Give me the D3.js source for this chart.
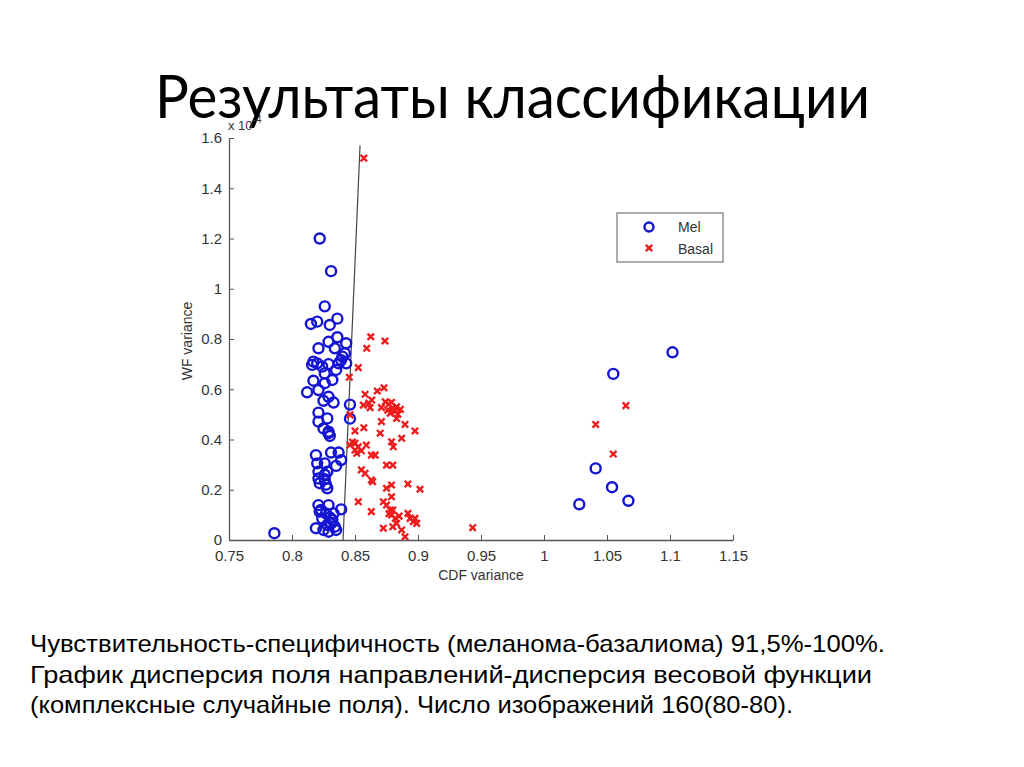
<!DOCTYPE html>
<html><head><meta charset="utf-8">
<script src="https://cdn.jsdelivr.net/npm/d3@7"></script>
<style>html,body{margin:0;padding:0;background:#fff;}</style>
</head><body>
<svg id="c" width="1024" height="767"></svg>
<script>
const titleText = "Результаты классификации";
const captionLines = [
  "Чувствительность-специфичность (меланома-базалиома)  91,5%-100%.",
  "График дисперсия поля направлений-дисперсия весовой функции",
  "(комплексные случайные поля). Число изображений 160(80-80)."
];
const xTicks = [0.75,0.8,0.85,0.9,0.95,1,1.05,1.1,1.15];
const xTickLabels = ["0.75","0.8","0.85","0.9","0.95","1","1.05","1.1","1.15"];
const yTicks = [0,0.2,0.4,0.6,0.8,1,1.2,1.4,1.6];
const yTickLabels = ["0","0.2","0.4","0.6","0.8","1","1.2","1.4","1.6"];
const seriesNames = ["Mel","Basal"];
const xLabel = "CDF variance";
const yLabel = "WF variance";
const boundaryX = [0.8405, 0.854];
const boundaryY = [0, 1.57];

// Mel: CDF variance, WF variance (x1e-4)
const melX = [0.822,0.831,0.826,0.815,0.820,0.830,0.836,
  0.836,0.829,0.821,0.834,0.843,0.842,0.839,0.817,0.820,0.816,0.829,0.837,0.843,0.835,0.826,0.817,0.826,0.832,0.821,0.812,0.829,0.825,0.833,0.846,0.846,0.821,0.828,0.821,0.825,0.829,0.830,
  0.829,0.819,0.831,0.837,0.839,0.820,0.826,0.835,0.821,0.828,0.821,0.826,0.822,0.828,0.821,0.829,0.839,0.822,0.827,0.833,0.824,0.832,0.819,0.828,0.834,0.829,0.835,0.825,
  0.827,0.826,0.830,0.823,0.831,0.824,0.840,
  1.102,1.055,1.041,1.054,1.067,1.028,0.786];
const melY = [1.20,1.07,0.93,0.86,0.869,0.856,0.881,
  0.807,0.789,0.763,0.763,0.783,0.743,0.716,0.710,0.703,0.697,0.700,0.703,0.703,0.677,0.663,0.634,0.624,0.637,0.597,0.588,0.570,0.554,0.547,0.539,0.483,0.507,0.484,0.471,0.444,0.431,0.414,
  0.425,0.338,0.348,0.348,0.318,0.305,0.305,0.295,0.272,0.272,0.245,0.242,0.226,0.206,0.139,0.139,0.122,0.113,0.106,0.106,0.086,0.080,0.047,0.060,0.053,0.033,0.040,0.040,
  0.220,0.260,0.090,0.120,0.065,0.690,0.730,
  0.747,0.661,0.285,0.210,0.156,0.142,0.027];

// Basal
const basX = [0.857,0.8625,0.8738,0.8593,0.8526,0.8455,0.873,0.8677,0.858,0.8633,0.8566,0.862,0.879,0.871,0.876,0.8817,0.884,0.878,0.846,0.871,0.8897,0.8976,0.850,0.857,0.870,0.879,0.8804,0.887,
  0.846,0.850,0.8526,0.850,0.8514,0.859,0.863,0.866,0.875,0.880,0.855,0.858,0.863,0.864,0.875,0.879,0.892,0.9016,0.879,0.8526,0.8725,0.875,0.878,0.880,0.879,0.882,0.883,0.887,0.863,0.892,0.8937,0.8976,0.899,0.8963,0.8725,0.880,0.8897,
  1.065,1.041,1.055,0.9434,
  0.877,0.883,0.874,0.880,0.886,0.883,0.855,0.848,0.861,0.885,0.877];
const basY = [1.52,0.809,0.792,0.763,0.686,0.648,0.606,0.593,0.580,0.557,0.537,0.527,0.548,0.527,0.517,0.513,0.500,0.505,0.498,0.471,0.460,0.434,0.434,0.447,0.425,0.391,0.371,0.405,
  0.378,0.385,0.371,0.358,0.345,0.378,0.338,0.338,0.298,0.298,0.279,0.265,0.239,0.232,0.206,0.219,0.223,0.202,0.172,0.152,0.152,0.139,0.119,0.119,0.100,0.086,0.066,0.040,0.113,0.106,0.086,0.086,0.066,0.073,0.047,0.053,0.013,
  0.535,0.460,0.342,0.049,
  0.540,0.530,0.550,0.525,0.520,0.484,0.355,0.390,0.545,0.095,0.105];

const svg = d3.select("#c");
const x = d3.scaleLinear().domain([0.75,1.15]).range([229,733]);
const y = d3.scaleLinear().domain([0,1.6]).range([540,138]);
const axisColor = "#555";
const textColor = "#333";
const blue = "#1414d2";
const red = "#ee1c1c";

// Title
svg.append("text").attr("x",155).attr("y",118)
  .attr("font-family","Lato, 'Open Sans', sans-serif").attr("font-size",60)
  .attr("textLength",715).attr("lengthAdjust","spacingAndGlyphs")
  .attr("fill","#000").text(titleText);

// Axes
const gx = svg.append("g").attr("transform","translate(0,540)")
  .call(d3.axisBottom(x).tickValues(xTicks).tickFormat((d,i)=>xTickLabels[i]).tickSizeInner(-5).tickSizeOuter(0).tickPadding(10));
const gy = svg.append("g").attr("transform","translate(229,0)")
  .call(d3.axisLeft(y).tickValues(yTicks).tickFormat((d,i)=>yTickLabels[i]).tickSizeInner(-5).tickSizeOuter(0).tickPadding(7));
[gx,gy].forEach(g=>{
  g.select(".domain").attr("stroke",axisColor).attr("stroke-width",1.3);
  g.selectAll(".tick line").attr("stroke",axisColor).attr("stroke-width",1);
  g.selectAll(".tick text").attr("fill",textColor).attr("font-size",15)
    .attr("font-family","'Liberation Sans', Arial, sans-serif");
});

// exponent label
const ex = svg.append("text").attr("x",228).attr("y",130).attr("fill",textColor)
  .attr("font-family","'Liberation Sans', Arial, sans-serif").attr("font-size",13);
ex.append("tspan").text("x 10");
ex.append("tspan").attr("dy",-7).attr("font-size",10).text("-4");

// axis labels
svg.append("text").attr("x",481).attr("y",580).attr("text-anchor","middle")
  .attr("font-family","'Liberation Sans', Arial, sans-serif").attr("font-size",14).attr("fill",textColor).text(xLabel);
svg.append("text").attr("transform","translate(192,341) rotate(-90)").attr("text-anchor","middle")
  .attr("font-family","'Liberation Sans', Arial, sans-serif").attr("font-size",14).attr("fill",textColor).text(yLabel);

// boundary line
svg.append("line").attr("x1",x(boundaryX[0])).attr("y1",y(boundaryY[0]))
  .attr("x2",x(boundaryX[1])).attr("y2",y(boundaryY[1]))
  .attr("stroke","#444").attr("stroke-width",1.2);

// Points
const mel = melX.map((v,i)=>({x:v,y:melY[i]}));
const bas = basX.map((v,i)=>({x:v,y:basY[i]}));
svg.append("g").selectAll("circle").data(mel).join("circle")
  .attr("cx",d=>x(d.x)).attr("cy",d=>y(d.y)).attr("r",5)
  .attr("fill","none").attr("stroke",blue).attr("stroke-width",2.4);
const s = 3.2;
svg.append("g").selectAll("path").data(bas).join("path")
  .attr("d",d=>{const cx=x(d.x),cy=y(d.y);return `M${cx-s},${cy-s}L${cx+s},${cy+s}M${cx-s},${cy+s}L${cx+s},${cy-s}`;})
  .attr("stroke",red).attr("stroke-width",2.4).attr("fill","none");

// Legend
const lg = svg.append("g");
lg.append("rect").attr("x",617).attr("y",213).attr("width",106).attr("height",49)
  .attr("fill","#fff").attr("stroke","#777").attr("stroke-width",1.2);
lg.append("circle").attr("cx",649).attr("cy",227).attr("r",4.5)
  .attr("fill","none").attr("stroke",blue).attr("stroke-width",2.4);
lg.append("path").attr("d",`M${649-s},${248-s}L${649+s},${248+s}M${649-s},${248+s}L${649+s},${248-s}`)
  .attr("stroke",red).attr("stroke-width",2.4);
seriesNames.forEach((n,i)=>{
  lg.append("text").attr("x",678).attr("y",232+i*21.5).attr("fill",textColor)
    .attr("font-family","'Liberation Sans', Arial, sans-serif").attr("font-size",14).text(n);
});

// Caption
const capW = [855, 842, 763];
captionLines.forEach((t,i)=>{
  svg.append("text").attr("x",30).attr("y",652+i*30.5)
    .attr("font-family","'Liberation Sans', Arial, sans-serif").attr("font-size",24)
    .attr("textLength",capW[i]).attr("lengthAdjust","spacingAndGlyphs")
    .attr("fill","#000").text(t);
});
</script>
</body></html>
